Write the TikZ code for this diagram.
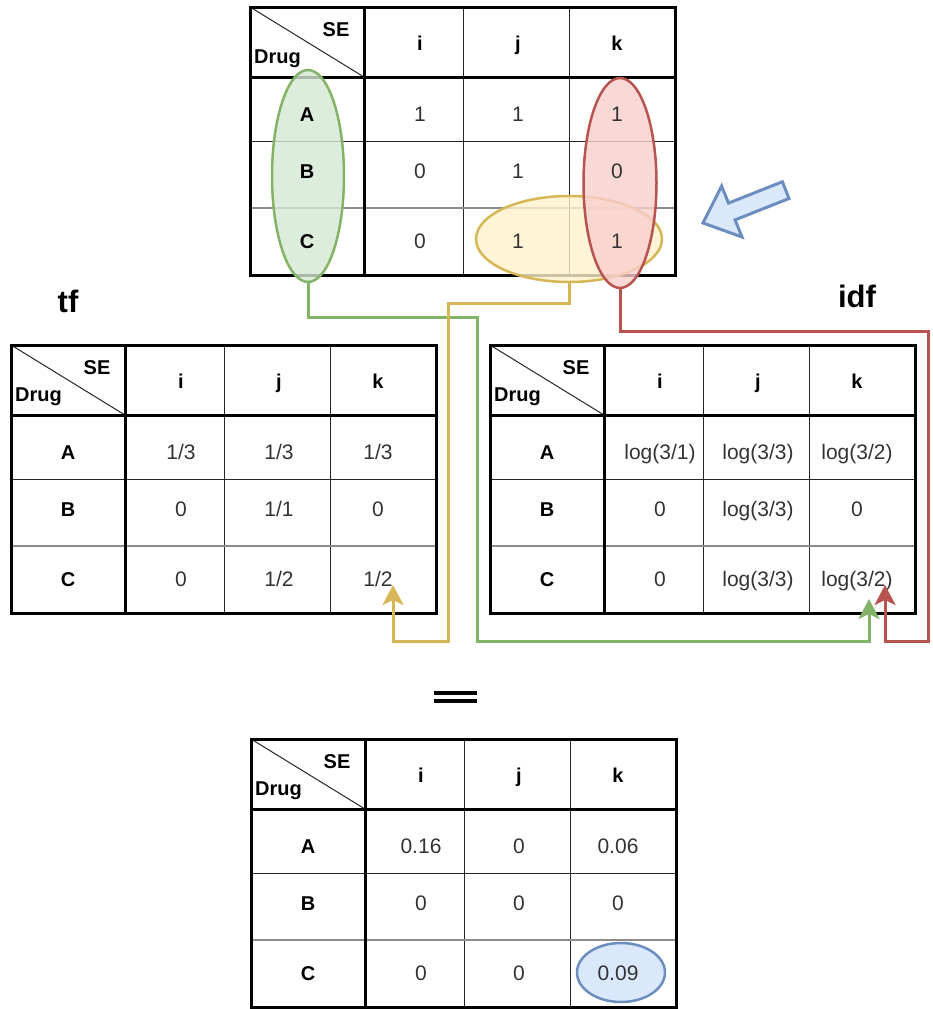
\documentclass[tikz,border=0pt]{standalone}
\usepackage{fontspec}
\setmainfont{Liberation Sans}
\usetikzlibrary{shapes.geometric,arrows.meta}

\definecolor{gStroke}{HTML}{82B366}
\definecolor{gFill}{HTML}{D5E8D4}
\definecolor{rStroke}{HTML}{B85450}
\definecolor{rFill}{HTML}{F8CECC}
\definecolor{yStroke}{HTML}{D6B656}
\definecolor{yFill}{HTML}{FFF2CC}
\definecolor{bStroke}{HTML}{6C8EBF}
\definecolor{bFill}{HTML}{DAE8FC}

% table rules at the bottom, highlight ellipses above them, text on top
\pgfdeclarelayer{rules}
\pgfdeclarelayer{marks}
\pgfsetlayers{rules,marks,main}

\tikzset{
  frame/.style={line width=3pt, draw=black},
  heavyrule/.style={line width=3pt, draw=black},
  lightrule/.style={line width=1pt, draw=black!85},
  greyrule/.style={line width=2pt, draw=black!45},
  lab/.style={font=\fontsize{20}{24}\selectfont\bfseries, inner sep=0pt, anchor=base},
  val/.style={font=\fontsize{21}{25}\selectfont, text=black!80, inner sep=0pt, anchor=base},
  title/.style={font=\fontsize{31}{36}\selectfont\bfseries, inner sep=0pt, anchor=base},
  marker/.style={ellipse, inner sep=0pt, line width=2.5pt, fill opacity=0.8},
  link/.style={line width=3pt, -{Stealth[length=20pt,width=21pt,inset=5pt]}},
}

% Drug x SE table: #1 name prefix, #2 top-left corner, #3 rows label/vi/vj/vk
\newcommand\drugtable[3]{%
  \begin{scope}[shift={#2}]
    \begin{pgfonlayer}{rules}
      \draw[lightrule] (0,0) -- (114,70);
      \draw[lightrule] (213,0) -- (213,268) (319,0) -- (319,268) (0,134) -- (425,134);
      \draw[greyrule] (0,201) -- (425,201);
      \draw[heavyrule] (0,70) -- (425,70) (114,0) -- (114,268);
      \draw[frame] (0,0) rectangle (425,268);
    \end{pgfonlayer}
    \node[lab] (#1-se) at (86,29) {SE};
    \node[lab, anchor=base west] (#1-drug) at (4,56) {Drug};
    \node[lab] (#1-i) at (170,43) {i};
    \node[lab] (#1-j) at (268,43) {j};
    \node[lab] (#1-k) at (367,43) {k};
    \foreach \lab/\a/\b/\c [count=\n] in {#3} {
      \pgfmathsetmacro\yb{{114,171,241}[\n-1]}
      \node[lab] (#1-\lab) at (57,\yb) {\lab};
      \node[val] (#1-\lab-i) at (170,\yb) {\a};
      \node[val] (#1-\lab-j) at (268,\yb) {\b};
      \node[val] (#1-\lab-k) at (367,\yb) {\c};
    }
  \end{scope}}

\begin{document}
\begin{tikzpicture}[x=1pt, y=-1pt]
  \useasboundingbox (0,0) rectangle (932,1009);

  % occurrence matrix
  \drugtable{occ}{(250,7)}{A/1/1/1, B/0/1/0, C/0/1/1}

  % term frequency and inverse document frequency
  \drugtable{tf}{(11,345)}{A/{1/3}/{1/3}/{1/3}, B/0/{1/1}/0, C/0/{1/2}/{1/2}}
  \drugtable{idf}{(490,345)}{A/{log(3/1)}/{log(3/3)}/{log(3/2)}, B/0/{log(3/3)}/0, C/0/{log(3/3)}/{log(3/2)}}

  \node[title] (tfTitle) at (68,312) {tf};
  \node[title] (idfTitle) at (857,307) {idf};

  % result matrix
  \drugtable{res}{(251,739)}{A/0.16/0/0.06, B/0/0/0, C/0/0/0.09}

  % equals sign
  \draw[line width=4pt] (434,693) -- (477,693) (434,701) -- (477,701);

  \begin{pgfonlayer}{marks}
    % selections on the occurrence matrix
    \node[marker, draw=gStroke, fill=gFill, minimum width=72pt, minimum height=212pt] (gEll) at (308,176) {};
    \node[marker, draw=yStroke, fill=yFill, minimum width=186pt, minimum height=86pt] (yEll) at (569,239) {};
    \node[marker, draw=rStroke, fill=rFill, minimum width=73pt, minimum height=210pt] (rEll) at (620,183) {};
    % highlighted result entry
    \node[ellipse, draw=bStroke, fill=bFill, line width=2.5pt, inner sep=0pt,
          minimum width=88pt, minimum height=59pt] (hl) at (621,972.5) {};
  \end{pgfonlayer}

  % pointer arrow
  \draw[draw=bStroke, fill=bFill, line width=3pt, line join=miter]
    (703,223) -- (742,237) -- (735.1,219.9) -- (789,198.5) -- (782.4,181.7)
    -- (728.5,203.1) -- (721.6,186) -- cycle;

  % connectors
  \coordinate (gTurnA) at (477,317);
  \coordinate (gTurnB) at (869,641);
  \coordinate (gEnd) at (869,599);
  \coordinate (yTurnA) at (448,303);
  \coordinate (yTurnB) at (393,641);
  \coordinate (yEnd) at (393,585);
  \coordinate (rTurnA) at (928,331);
  \coordinate (rTurnB) at (885,641);
  \coordinate (rEnd) at (885,585);

  \draw[link, draw=gStroke] (gEll.south) |- (gTurnA) |- (gTurnB) -- (gEnd);
  \draw[link, draw=yStroke] (yEll.south) |- (yTurnA) |- (yTurnB) -- (yEnd);
  \draw[link, draw=rStroke] (rEll.south) |- (rTurnA) |- (rTurnB) -- (rEnd);
\end{tikzpicture}
\end{document}
